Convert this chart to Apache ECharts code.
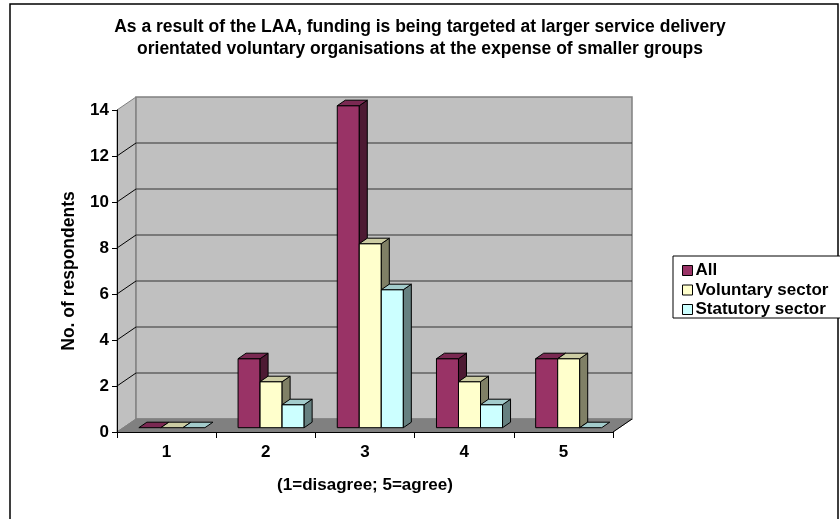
<!DOCTYPE html>
<html>
<head>
<meta charset="utf-8">
<script src="https://cdn.jsdelivr.net/npm/echarts@6/dist/echarts.min.js"></script>
<style>html,body{margin:0;padding:0;background:#fff}#c{width:840px;height:519px}</style>
</head>
<body>
<div id="c"></div>
<script>
var categories = ['1', '2', '3', '4', '5'];
var allValues = [0, 3, 14, 3, 3];
var voluntaryValues = [0, 2, 8, 2, 3];
var statutoryValues = [0, 1, 6, 1, 0];
var seriesNames = ['All', 'Voluntary sector', 'Statutory sector'];
var yTicks = [0, 2, 4, 6, 8, 10, 12, 14];

var FONT = '"Liberation Sans", Arial, sans-serif';
var FS = 17;
var DX = 19, DY = -13;        // wall depth
var FDX = 5.3, FDY = -4.3;    // bar row position in depth
var BDX = 8, BDY = -5.5;      // bar depth
var palette = [
  {front: '#993366', top: '#7A2952', side: '#4D1A33'},
  {front: '#FFFFCC', top: '#CCCCA3', side: '#808066'},
  {front: '#CCFFFF', top: '#A3CCCC', side: '#668080'}
];

function decorRender(params, api) {
  var cs = params.coordSys;
  var x0 = cs.x, x1 = cs.x + cs.width;
  var yb = api.coord([0, 0])[1];
  var yt = api.coord([0, 14])[1];
  var ch = [];
  ch.push({type: 'polygon', shape: {points: [[x0, yb], [x0, yt], [x0 + DX, yt + DY], [x0 + DX, yb + DY]]},
    style: {fill: '#C0C0C0', stroke: '#808080', lineWidth: 1}});
  ch.push({type: 'rect', shape: {x: x0 + DX, y: yt + DY, width: x1 - x0, height: yb - yt},
    style: {fill: '#C0C0C0', stroke: '#808080', lineWidth: 1.5}});
  ch.push({type: 'polygon', shape: {points: [[x0, yb], [x1, yb], [x1 + DX, yb + DY], [x0 + DX, yb + DY]]},
    style: {fill: '#808080', stroke: '#808080', lineWidth: 1}});
  ch.push({type: 'line', shape: {x1: x1, y1: yb, x2: x1 + DX, y2: yb + DY}, style: {stroke: '#000', lineWidth: 1}});
  for (var i = 1; i < yTicks.length - 1; i++) {
    var y = api.coord([0, yTicks[i]])[1];
    ch.push({type: 'line', shape: {x1: x0 + DX, y1: y + DY, x2: x1 + DX, y2: y + DY}, style: {stroke: '#333', lineWidth: 1.2}});
    ch.push({type: 'line', shape: {x1: x0, y1: y, x2: x0 + DX, y2: y + DY}, style: {stroke: '#000', lineWidth: 1}});
  }
  return {type: 'group', children: ch};
}

function barRender(si) {
  return function (params, api) {
    var cat = api.value(0), v = api.value(1);
    var band = api.size([1, 0])[0];
    var bw = band * 0.222;
    var c0 = api.coord([cat, 0]);
    var c1 = api.coord([cat, v]);
    var left = c0[0] - 1.5 * bw + si * bw + FDX;
    var right = left + bw;
    var yb = c0[1] + FDY, yt = c1[1] + FDY;
    var col = palette[si];
    var st = {stroke: '#000', lineWidth: 1, lineJoin: 'round'};
    var ch = [];
    if (yb - yt > 0.5) {
      ch.push({type: 'rect', shape: {x: left, y: yt, width: bw, height: yb - yt}, style: Object.assign({fill: col.front}, st)});
      ch.push({type: 'polygon', shape: {points: [[right, yt], [right + BDX, yt + BDY], [right + BDX, yb + BDY], [right, yb]]},
        style: Object.assign({fill: col.side}, st)});
    }
    ch.push({type: 'polygon', shape: {points: [[left, yt], [left + BDX, yt + BDY], [right + BDX, yt + BDY], [right, yt]]},
      style: Object.assign({fill: col.top}, st)});
    return {type: 'group', children: ch};
  };
}

function toData(arr) { return arr.map(function (v, i) { return [i, v]; }); }

var chart = echarts.init(document.getElementById('c'), null, {renderer: 'canvas'});
chart.setOption({
  animation: false,
  backgroundColor: '#fff',
  textStyle: {fontFamily: FONT},
  title: {
    text: 'As a result of the LAA, funding is being targeted at larger service delivery\norientated voluntary organisations at the expense of smaller groups',
    left: 'center', top: 11,
    textStyle: {fontFamily: FONT, fontSize: 17.5, fontWeight: 'bold', color: '#000', lineHeight: 22}
  },
  graphic: [
    {type: 'rect', shape: {x: 10, y: 4, width: 828, height: 540}, style: {fill: 'none', stroke: '#000', lineWidth: 1.5}, z: 0},
    {type: 'rect', shape: {x: 673, y: 256, width: 200, height: 62}, style: {fill: '#fff', stroke: '#000', lineWidth: 1}, z: 1}
  ],
  legend: {
    data: seriesNames,
    orient: 'vertical', left: 677, top: 257,
    itemWidth: 10, itemHeight: 10, itemGap: 2.5, icon: 'rect',
    itemStyle: {borderColor: '#000', borderWidth: 1},
    textStyle: {fontFamily: FONT, fontSize: FS, fontWeight: 'bold', color: '#000', lineHeight: 17, padding: [0, 0, 0, -2]},
    z: 5
  },
  grid: {left: 117, top: 110, width: 496, height: 322, containLabel: false},
  xAxis: {
    type: 'category', data: categories, boundaryGap: true, z: 10,
    axisLine: {lineStyle: {color: '#000', width: 1}},
    axisTick: {show: true, interval: 0, length: 6, lineStyle: {color: '#000'}},
    axisLabel: {margin: 12, fontFamily: FONT, fontSize: FS, fontWeight: 'bold', color: '#000'},
    name: '(1=disagree; 5=agree)', nameLocation: 'middle', nameGap: 45,
    nameTextStyle: {fontFamily: FONT, fontSize: FS, fontWeight: 'bold', color: '#000'},
    splitLine: {show: false}
  },
  yAxis: {
    type: 'value', min: 0, max: 14, interval: 2, z: 10,
    axisLine: {show: true, lineStyle: {color: '#000', width: 1}},
    axisTick: {show: true, length: 5, lineStyle: {color: '#000'}},
    axisLabel: {margin: 8, fontFamily: FONT, fontSize: FS, fontWeight: 'bold', color: '#000'},
    name: 'No. of respondents', nameLocation: 'middle', nameGap: 39, nameRotate: 90,
    nameTextStyle: {fontFamily: FONT, fontSize: 17.5, fontWeight: 'bold', color: '#000'},
    splitLine: {show: false}
  },
  series: [
    {type: 'custom', name: 'decor', renderItem: decorRender, data: [[0, 0]], z: 1, silent: true, tooltip: {show: false}},
    {type: 'custom', name: seriesNames[0], renderItem: barRender(0), data: toData(allValues), z: 2, itemStyle: {color: palette[0].front}},
    {type: 'custom', name: seriesNames[1], renderItem: barRender(1), data: toData(voluntaryValues), z: 2, itemStyle: {color: palette[1].front}},
    {type: 'custom', name: seriesNames[2], renderItem: barRender(2), data: toData(statutoryValues), z: 2, itemStyle: {color: palette[2].front}}
  ]
});
</script>
</body>
</html>
